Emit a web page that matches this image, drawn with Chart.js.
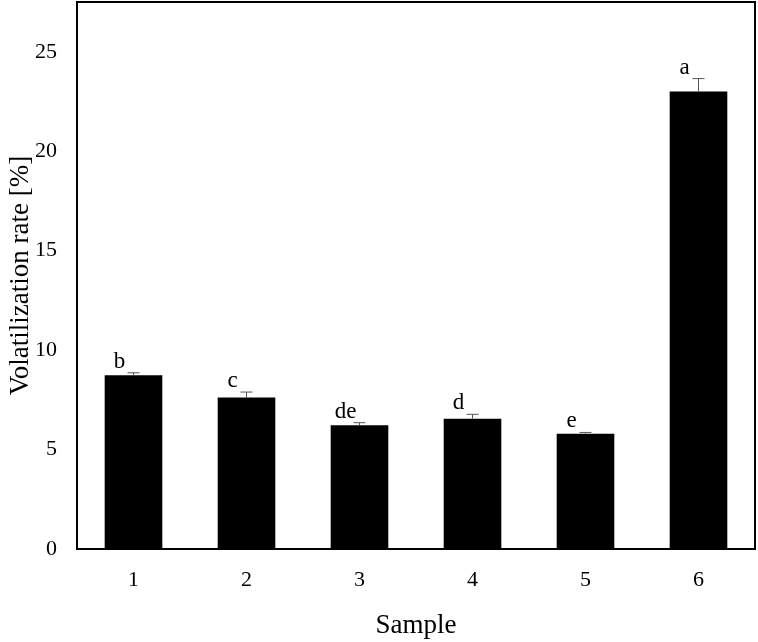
<!DOCTYPE html>
<html>
<head>
<meta charset="utf-8">
<style>
  html, body { margin: 0; padding: 0; background: #fff; }
  canvas { display: block; }
</style>
<script src="https://cdn.jsdelivr.net/npm/chart.js@4/dist/chart.umd.min.js"></script>
</head>
<body>
<canvas id="chart" width="758" height="642"></canvas>
<script>
// ---------- DATA ----------
const samples = ["1", "2", "3", "4", "5", "6"];
const volatilization = [8.74, 7.62, 6.22, 6.55, 5.80, 23.0];
const errors = [0.12, 0.27, 0.13, 0.22, 0.06, 0.65];
const letters = ["b", "c", "de", "d", "e", "a"];
const yTicks = [0, 5, 10, 15, 20, 25];

const serif = "'Liberation Serif', 'Times New Roman', serif";

// error bars + significance letters + frame
const extrasPlugin = {
  id: "extras",
  afterDatasetsDraw(chart) {
    const ctx = chart.ctx;
    const x = chart.scales.x;
    const y = chart.scales.y;
    ctx.save();
    volatilization.forEach((v, i) => {
      const cx = x.getPixelForValue(i);
      const yBar = y.getPixelForValue(v);
      const yTop = y.getPixelForValue(v + errors[i]);
      ctx.strokeStyle = "#555";
      ctx.lineWidth = 1;
      ctx.beginPath();
      ctx.moveTo(cx, yBar);
      ctx.lineTo(cx, yTop);
      ctx.moveTo(cx - 6, yTop);
      ctx.lineTo(cx + 6, yTop);
      ctx.stroke();

      ctx.fillStyle = "#000";
      ctx.font = "23px " + serif;
      ctx.textAlign = "center";
      ctx.textBaseline = "alphabetic";
      ctx.fillText(letters[i], cx - 14, yTop - 5);
    });
    // plot frame
    const a = chart.chartArea;
    ctx.strokeStyle = "#000";
    ctx.lineWidth = 2;
    ctx.strokeRect(a.left, a.top, a.right - a.left, a.bottom - a.top);
    ctx.restore();
  }
};

new Chart(document.getElementById("chart").getContext("2d"), {
  type: "bar",
  data: {
    labels: samples,
    datasets: [{
      data: volatilization,
      backgroundColor: "#000",
      borderWidth: 0,
      categoryPercentage: 1.0,
      barPercentage: 0.51
    }]
  },
  options: {
    responsive: false,
    animation: false,
    layout: { padding: { top: 2, right: 3, left: 0, bottom: 0 } },
    plugins: {
      legend: { display: false },
      tooltip: { enabled: false }
    },
    scales: {
      x: {
        grid: { display: false, drawTicks: false },
        border: { display: false },
        ticks: {
          padding: 18,
          color: "#000",
          font: { family: serif, size: 22 }
        },
        title: {
          display: true,
          text: "Sample",
          color: "#000",
          font: { family: serif, size: 27 },
          padding: { top: 0, bottom: 0 }
        },
        afterFit(scale) {
          scale.height = 93;
          scale.paddingLeft = 0;
          scale.paddingRight = 0;
        }
      },
      y: {
        min: 0,
        max: 27.5,
        grid: { display: false, drawTicks: false },
        border: { display: false },
        afterBuildTicks(scale) {
          scale.ticks = yTicks.map(v => ({ value: v }));
        },
        ticks: {
          padding: 20,
          color: "#000",
          font: { family: serif, size: 22 }
        },
        title: {
          display: true,
          text: "Volatilization rate [%]",
          color: "#000",
          font: { family: serif, size: 27 },
          padding: { top: 5, bottom: 0 }
        },
        afterFit(scale) {
          scale.width = 77;
          scale.paddingTop = 0;
          scale.paddingBottom = 0;
        }
      }
    }
  },
  plugins: [extrasPlugin]
});
</script>
</body>
</html>
